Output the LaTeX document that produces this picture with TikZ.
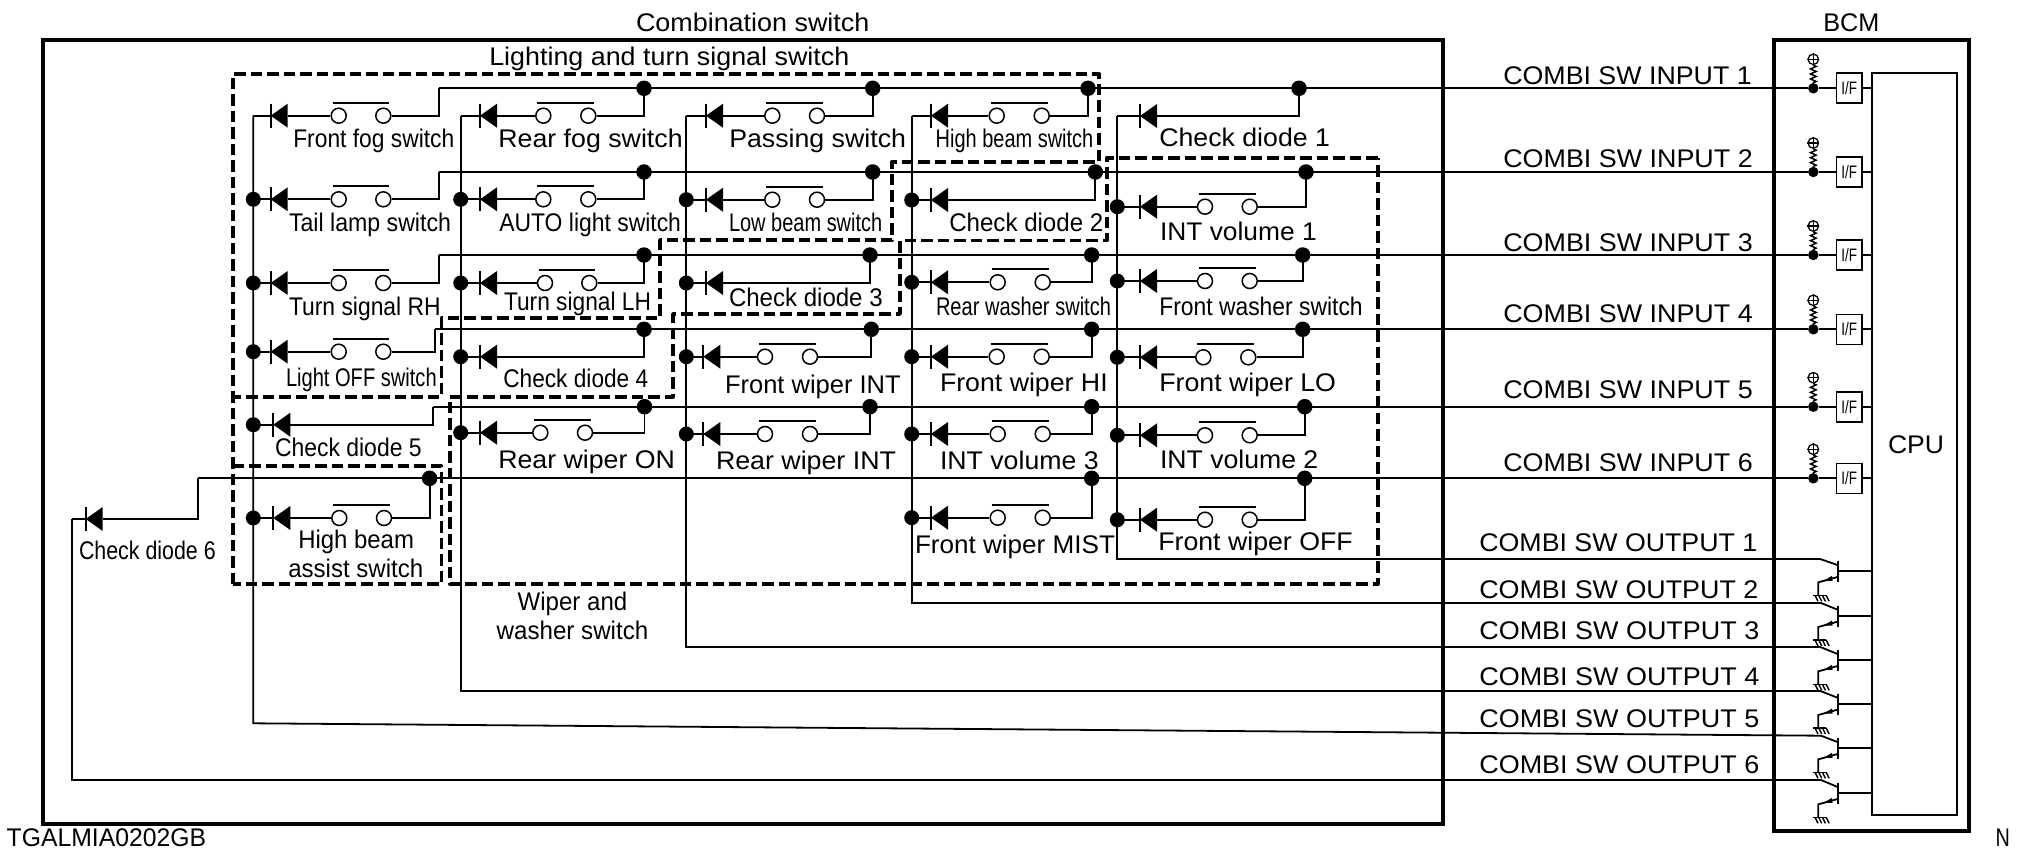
\documentclass[tikz,border=0pt]{standalone}
\usepackage{fontspec}
\usepackage{graphicx}
\setmainfont{Liberation Sans}
\usetikzlibrary{decorations.pathmorphing}
\newcounter{labctr}
\tikzset{
  wire/.style={line width=1.8pt,line join=miter},
  frame/.style={line width=3.8pt,line join=miter},
  dbox/.style={line width=3.7pt,dash pattern=on 11.5pt off 5pt,line join=round},
  swc/.style={circle,draw,fill=white,line width=1.5pt,minimum size=15pt,inner sep=0pt},
  jdot/.style={circle,fill=black,minimum size=15pt,inner sep=0pt},
  bdot/.style={circle,fill=black,minimum size=15.5pt,inner sep=0pt},
  idot/.style={circle,fill=black,minimum size=10.5pt,inner sep=0pt},
  ifbox/.style={rectangle,draw,fill=white,line width=1.6pt,minimum width=25.3pt,minimum height=30pt,inner sep=0pt},
  cpubox/.style={rectangle,draw,line width=1.8pt,minimum width=85pt,minimum height=741.7pt,inner sep=0pt},
  plus/.style={circle,draw,line width=1.3pt,minimum size=10.5pt,inner sep=0pt},
  tlab/.style={anchor=base west,inner sep=0pt,outer sep=0pt}
}
% name, left, right, baseline, text
\newcommand\tlabel[4]{%
  \stepcounter{labctr}%
  \pgfmathsetmacro\labw{#2-#1}%
  \node[tlab] (t\thelabctr) at (#1,#3) {\resizebox{\labw pt}{\height}{\fontsize{25.5}{27}\selectfont #4}};}
% diode: name, bar x, y
\newcommand\diodeat[3]{%
  \coordinate (#1-k) at (#2,#3);
  \coordinate (#1-a) at (#2+17,#3);
  \fill (#2,#3) -- (#2+17,#3-12) -- (#2+17,#3+12) -- cycle;
  \draw[wire] (#2,#3-12) -- (#2,#3+12);}
% switch row: name, vertical x, bar x, y, contact 1, contact 2, riser x, bus y
\newcommand\swrow[8]{%
  \diodeat{#1}{#3}{#4}
  \coordinate (#1-l) at (#2,#4);
  \coordinate (#1-d) at (#7,#8);
  \node[swc] (#1-p) at (#5,#4) {};
  \node[swc] (#1-q) at (#6,#4) {};
  \draw[wire] (#5-6,#4-13) -- (#6+6,#4-13);
  \draw[wire] (#1-l) -- (#1-k);
  \draw[wire] (#1-a) -- (#1-p);
  \draw[wire] (#1-q) -| (#1-d);}
% check diode row: name, vertical x, bar x, y, riser x, bus y
\newcommand\ckrow[6]{%
  \diodeat{#1}{#3}{#4}
  \coordinate (#1-l) at (#2,#4);
  \coordinate (#1-d) at (#5,#6);
  \draw[wire] (#1-l) -- (#1-k);
  \draw[wire] (#1-a) -| (#1-d);}
% transistor: name, collector y, base y
\newcommand\xstr[3]{%
  \coordinate (#1-c) at (1821,#2);
  \coordinate (#1-b) at (1838.3,#3);
  \coordinate (#1-e) at (1818.3,#3+11);
  \coordinate (#1-g) at (1818.3,#3+24);
  \draw[wire] (1838.3,#3-10.5) -- (1838.3,#3+10.5);
  \draw[wire] (#1-c) -- (1838.3,#3-6);
  \draw[wire] (1838.3,#3+5.5) -- (#1-e) -- (#1-g);
  \fill (1823,#3+9.8) -- (1832,#3+4.5) -- (1832.5,#3+9.5) -- cycle;
  \draw[line width=1.6pt] (1813.3,#3+24) -- (1826,#3+24);
  \foreach \i in {0,1,2,3}{\draw[line width=1.4pt] (1815+\i*3.7,#3+24) -- (1818+\i*3.7,#3+30);}
  \draw[wire] (#1-b) -- (cpu.west |- #1-b);}
% BCM input: name, y
\newcommand\inrow[2]{%
  \node[idot] (#1-d) at (1813.3,#2) {};
  \node[ifbox] (#1-f) at (1849.3,#2) {\resizebox{15.7pt}{\height}{\fontsize{18}{20}\selectfont I/F}};
  \node[plus] (#1-u) at (1813.3,#2-29) {};
  \draw[line width=1.3pt] (#1-u.north) -- (#1-u.south) (#1-u.west) -- (#1-u.east);
  \draw[line width=1.5pt,decorate,decoration={zigzag,amplitude=2.8pt,segment length=5pt}] (#1-u.south) -- (#1-d.north);
  \draw[wire] (#1-d) -- (#1-f);
  \draw[wire] (#1-f) -- (cpu.west |- #1-f);}
\begin{document}
\begin{tikzpicture}[x=1pt,y=-1pt]
\useasboundingbox (0,0) rectangle (2020,853);
% frames
\coordinate (fa) at (43.3,40);
\coordinate (fb) at (1443.3,824.3);
\coordinate (ga) at (1774.3,40);
\coordinate (gb) at (1969.3,831);
\draw[frame] (fa) rectangle (fb);
\draw[frame] (ga) rectangle (gb);
\node[cpubox] (cpu) at (1914.8,444.2) {};
% switch rows
\swrow{a1}{253.3}{270.7}{115.7}{338.7}{383.3}{438.7}{88.3}
\swrow{a2}{253.3}{270.7}{199.3}{338.7}{383.3}{438.7}{172}
\swrow{a3}{253.3}{270.7}{283}{338.7}{383.3}{438.7}{255}
\swrow{a4}{253.3}{270.7}{351.7}{338.7}{383.3}{435}{329.3}
\ckrow{a5}{253.3}{273.3}{424.7}{433.3}{406.7}
\swrow{a6}{253.3}{273.3}{518}{339.3}{384}{429.6}{478.3}
\swrow{b1}{460.7}{480}{115.7}{543.3}{588.3}{644}{88.3}
\swrow{b2}{460.7}{480}{199.3}{543.3}{588.3}{644}{172}
\swrow{b3}{460.7}{480}{283}{545}{589.3}{644}{255}
\ckrow{b4}{460.7}{480}{356.7}{644}{329.3}
\swrow{b5}{460.7}{480}{432.7}{540.3}{585}{644.5}{406.7}
\swrow{c1}{686.3}{706}{115.7}{772.3}{817}{872.7}{88.3}
\swrow{c2}{686.3}{706}{199.7}{772.3}{817}{872.7}{172}
\ckrow{c3}{686.3}{706}{283}{870}{255}
\swrow{c4}{686.3}{703.3}{356.7}{765}{810}{871.3}{329.3}
\swrow{c5}{686.3}{703.3}{434}{765}{810}{870}{406.7}
\swrow{d1}{911.7}{931}{115.7}{996.7}{1041.7}{1088}{88.3}
\ckrow{d2}{911.7}{931}{200}{1095.3}{172}
\swrow{d3}{911.7}{931}{282.3}{997.7}{1042.7}{1091.7}{255}
\swrow{d4}{911.7}{931}{356.7}{996.7}{1041.7}{1091.7}{329.3}
\swrow{d5}{911.7}{931}{434}{997.7}{1042.7}{1091.7}{406.7}
\swrow{d6}{911.7}{931}{517.7}{997.7}{1042.7}{1091.7}{478.3}
\ckrow{e1}{1117.3}{1140}{116}{1299}{88.3}
\swrow{e2}{1117.3}{1140}{206.7}{1205}{1249.7}{1306}{172}
\swrow{e3}{1117.3}{1140}{281}{1205}{1249.7}{1302.7}{255}
\swrow{e4}{1117.3}{1140}{357.3}{1203.3}{1248.3}{1302.7}{329.3}
\swrow{e5}{1117.3}{1140}{435.3}{1205}{1249.7}{1304.7}{406.7}
\swrow{e6}{1117.3}{1140}{519.7}{1205}{1249.7}{1304.7}{478.3}
% check diode 6
\diodeat{z}{85.7}{519}
\coordinate (z-l) at (72.3,519);
\coordinate (z-d) at (197.7,478.3);
\draw[wire] (z-l) -- (z-k);
\draw[wire] (z-a) -| (z-d);
% BCM
\inrow{i1}{88.3}
\inrow{i2}{172}
\inrow{i3}{255}
\inrow{i4}{329.3}
\inrow{i5}{406.7}
\inrow{i6}{478.3}
\xstr{q1}{559.3}{571.3}
\xstr{q2}{603}{616}
\xstr{q3}{647.3}{660.3}
\xstr{q4}{691.3}{704}
\xstr{q5}{735.7}{748.3}
\xstr{q6}{780}{793.3}
% buses
\draw[wire] (a1-d) -- (i1-d);
\draw[wire] (a2-d) -- (i2-d);
\draw[wire] (a3-d) -- (i3-d);
\draw[wire] (a4-d) -- (i4-d);
\draw[wire] (a5-d) -- (i5-d);
\draw[wire] (z-d) -- (i6-d);
% output lines
\draw[wire] (e1-l) |- (q1-c);
\draw[wire] (d1-l) |- (q2-c);
\draw[wire] (c1-l) |- (q3-c);
\draw[wire] (b1-l) |- (q4-c);
\coordinate (a-low) at (253.3,723.3);
\draw[wire] (a1-l) -- (a-low) -- (q5-c);
\draw[wire] (z-l) |- (q6-c);
% dashed blocks
\draw[dbox] (232.7,584.3) -- (232.7,74.3) -- (1099.3,74.3) -- (1099.3,161.7) -- (892.3,161.7) -- (892.3,240) -- (660,240) -- (660,318) -- (441.5,318) -- (441.5,397) -- (232.7,397);
\draw[dbox] (232.7,466) -- (441.5,466) -- (441.5,584.3) -- (232.7,584.3);
\draw[dbox] (1377.7,157.7) -- (1106.7,157.7) -- (1106.7,240.5) -- (900,240.5) -- (900,314) -- (673,314) -- (673,396.7) -- (450,396.7) -- (450,584.3) -- (1377.7,584.3) -- cycle;
% junction dots
\foreach \n in {a2,a3,a4,a5,a6,b2,b3,b4,b5,c2,c3,c4,c5,d2,d3,d4,d5,d6,e2,e3,e4,e5,e6}{\node[jdot] (\n-j) at (\n-l) {};}
\foreach \n in {a6,b1,b2,b3,b4,b5,c1,c2,c3,c4,c5,d1,d2,d3,d4,d5,d6,e1,e2,e3,e4,e5,e6}{\node[bdot] (\n-t) at (\n-d) {};}
% texts
\tlabel{636}{869.4}{32}{Combination switch}
\tlabel{489.3}{849.3}{66}{Lighting and turn signal switch}
\tlabel{1823.3}{1879.3}{31.7}{BCM}
\tlabel{1888}{1944}{453}{CPU}
\tlabel{293.3}{454.3}{147.3}{Front fog switch}
\tlabel{498.3}{682.7}{147.3}{Rear fog switch}
\tlabel{729.3}{906}{147.3}{Passing switch}
\tlabel{935.7}{1093.3}{147.3}{High beam switch}
\tlabel{1159.3}{1330}{146.7}{Check diode 1}
\tlabel{289}{451}{231.7}{Tail lamp switch}
\tlabel{499.3}{681}{231.7}{AUTO light switch}
\tlabel{729}{882.3}{231.7}{Low beam switch}
\tlabel{949.3}{1103.3}{231.7}{Check diode 2}
\tlabel{1160}{1316.7}{240.7}{INT volume 1}
\tlabel{289}{440.7}{315}{Turn signal RH}
\tlabel{504}{651}{310}{Turn signal LH}
\tlabel{729}{882.7}{306.7}{Check diode 3}
\tlabel{936}{1111}{315}{Rear washer switch}
\tlabel{1159.3}{1362.7}{315}{Front washer switch}
\tlabel{286}{436.7}{386}{Light OFF switch}
\tlabel{503.3}{648.3}{387.3}{Check diode 4}
\tlabel{725}{900.7}{393.3}{Front wiper INT}
\tlabel{940}{1107.7}{391.7}{Front wiper HI}
\tlabel{1159.3}{1336}{391.7}{Front wiper LO}
\tlabel{275}{421.7}{456.7}{Check diode 5}
\tlabel{498.3}{675}{468.3}{Rear wiper ON}
\tlabel{716}{896}{469.3}{Rear wiper INT}
\tlabel{940}{1098.7}{469.3}{INT volume 3}
\tlabel{1160}{1318.3}{468.3}{INT volume 2}
\tlabel{298.3}{414}{548.3}{High beam}
\tlabel{288.3}{423.3}{577.3}{assist switch}
\tlabel{915}{1115}{553.3}{Front wiper MIST}
\tlabel{1158.3}{1352.7}{550.7}{Front wiper OFF}
\tlabel{79}{215.7}{559.3}{Check diode 6}
\tlabel{517.7}{627.3}{610.7}{Wiper and}
\tlabel{496.7}{648.3}{639}{washer switch}
\tlabel{1503.3}{1751.7}{84.3}{COMBI SW INPUT 1}
\tlabel{1503.3}{1752.7}{167.3}{COMBI SW INPUT 2}
\tlabel{1503.3}{1752.7}{251.7}{COMBI SW INPUT 3}
\tlabel{1503.3}{1752.7}{322}{COMBI SW INPUT 4}
\tlabel{1503.3}{1752.7}{398.3}{COMBI SW INPUT 5}
\tlabel{1503.3}{1752.7}{471}{COMBI SW INPUT 6}
\tlabel{1479.3}{1757.3}{551.7}{COMBI SW OUTPUT 1}
\tlabel{1479.3}{1758.3}{598}{COMBI SW OUTPUT 2}
\tlabel{1479.3}{1759.3}{639.3}{COMBI SW OUTPUT 3}
\tlabel{1479.3}{1759.3}{685.7}{COMBI SW OUTPUT 4}
\tlabel{1479.3}{1759.3}{727.3}{COMBI SW OUTPUT 5}
\tlabel{1479.3}{1759.3}{773.3}{COMBI SW OUTPUT 6}
\tlabel{6.7}{206}{846.7}{TGALMIA0202GB}
\tlabel{1995.7}{2010}{846.7}{N}
\end{tikzpicture}
\end{document}
